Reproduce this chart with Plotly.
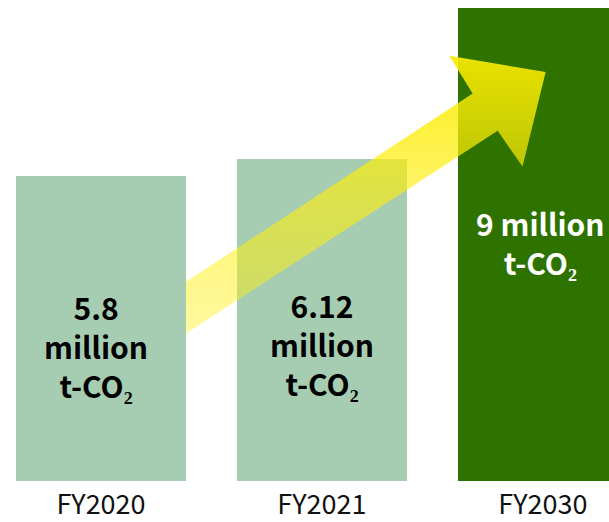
import plotly.graph_objects as go

categories = ["FY2020", "FY2021", "FY2030"]
values = [5.8, 6.12, 9]
value_labels = ["5.8<br>million<br>t-CO₂", "6.12<br>million<br>t-CO₂", "9 million<br>t-CO₂"]

bar_colors = ["#a6cdb1", "#a6cdb1", "#2e7300"]
text_colors = ["#000000", "#000000", "#ffffff"]
text_yshift = [-17, -24, 2]
text_xshift = [-5, 0, -2]

FONT = "Noto Sans CJK JP"
xs = list(range(len(categories)))

fig = go.Figure()
fig.add_trace(go.Bar(
    x=xs, y=values, width=0.769,
    marker=dict(color=bar_colors, line=dict(width=0)),
    hoverinfo="skip", showlegend=False,
))

# decorative arrow (in axis units)
arrow_x = [0.3846, 1.6819, 1.5760, 2.0122, 1.9077, 1.7951, 0.3846, 0.3846]
arrow_y = [3.789, 7.370, 8.090, 7.782, 5.981, 6.664, 2.804, 3.789]
fig.add_trace(go.Scatter(
    x=arrow_x, y=arrow_y, mode="lines", fill="toself",
    line=dict(width=0, color="rgba(0,0,0,0)"),
    fillgradient=dict(
        type="vertical",
        colorscale=[[0, "rgba(255,240,20,0.40)"], [0.5, "rgba(255,238,10,0.62)"], [1, "rgba(250,235,0,0.92)"]],
    ),
    hoverinfo="skip", showlegend=False,
))

for i, (v, lab) in enumerate(zip(values, value_labels)):
    fig.add_annotation(
        x=xs[i], y=v / 2, text=f"<b>{lab}</b>", showarrow=False,
        font=dict(family=FONT, size=30, color=text_colors[i]),
        xshift=text_xshift[i], yshift=text_yshift[i], align="center",
    )

fig.update_layout(
    width=609, height=522,
    margin=dict(l=0, r=0, t=0, b=39),
    paper_bgcolor="white", plot_bgcolor="white",
    bargap=0,
    xaxis=dict(range=[-0.457, 2.299], tickvals=xs, ticktext=categories,
               showgrid=False, zeroline=False, showline=False, ticks="",
               tickfont=dict(family=FONT, size=27, color="#111111"),
               ticklabelstandoff=5, fixedrange=True),
    yaxis=dict(range=[0, 9.151], visible=False, showgrid=False, zeroline=False, fixedrange=True),
    font=dict(family=FONT),
)

fig.write_html("out.html", config={"displayModeBar": False})
